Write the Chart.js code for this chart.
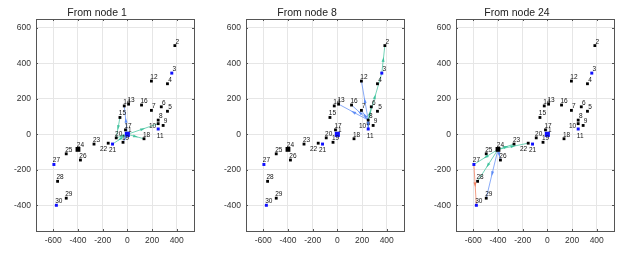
<!DOCTYPE html>
<html>
<head>
<meta charset="utf-8">
<script src="https://cdn.jsdelivr.net/npm/chart.js@4.4.1/dist/chart.umd.min.js"></script>
<style>
  body { margin:0; background:#fff; width:623px; height:260px; position:relative; overflow:hidden; }
  canvas { position:absolute; top:0; }
</style>
</head>
<body>
<canvas id="c1" width="200" height="260" style="left:0px"></canvas>
<canvas id="c2" width="200" height="260" style="left:210px"></canvas>
<canvas id="c3" width="200" height="260" style="left:420px"></canvas>
<script>
// node coordinates
const nodeIds = [1,2,3,4,5,6,7,8,9,10,11,12,13,14,15,16,17,18,19,20,21,22,23,24,25,26,27,28,29,30];
const nodeX = [0,385,360,325,325,275,195,250,290,250,250,195,10,-25,-60,115,-15,135,-35,-90,-120,-155,-270,-400,-495,-380,-595,-565,-495,-575];
const nodeY = [0,500,345,285,130,155,135,80,50,60,30,300,170,160,95,165,25,-25,-45,-20,-55,-50,-55,-85,-110,-145,-170,-265,-360,-400];
const blueNodes = [1,3,11,21,27,30];
const bigNodes = [1,24];

const xTicks = [-600,-400,-200,0,200,400];
const yTicks = [-400,-200,0,200,400,600];

const titles = ['From node 1','From node 8','From node 24'];

// edges for each panel: from, to, colour class
const from1 = [1,1,1,1,1,1,15];
const to1   = [14,19,10,18,21,20,20];
const kind1 = ['b','b','g','g','g','g','g'];

const from2 = [8,3,8,8,8,8,8,8];
const to2   = [3,2,6,12,13,16,7,11];
const kind2 = ['g','g','g','b','b','b','b','b'];

const from3 = [24,24,24,24,24,24,27];
const to3   = [23,22,27,28,29,26,30];
const kind3 = ['g','g','g','g','b','b','o'];

const EDGE_COL = { b:'rgba(80,130,245,0.85)', g:'rgba(50,190,150,0.85)', o:'rgba(240,120,85,0.9)' };
const FONT = 'Liberation Sans, Arial, sans-serif';

const pt = id => ({ x: nodeX[id-1], y: nodeY[id-1] });

// label placement tweaks (style only)
const labelPos = {
  10: { align:'right',  dx:-2, dy:4 },
  11: { align:'center', dx:2,  dy:9 },
  21: { align:'center', dx:0,  dy:8 },
  22: { align:'right',  dx:-1, dy:8 }
};

const boxPlugin = {
  id:'box',
  afterDraw(chart) {
    const { ctx, chartArea:a, scales } = chart;
    ctx.save();
    ctx.strokeStyle = '#555';
    ctx.lineWidth = 1;
    // little inward tick marks like the original
    ctx.beginPath();
    xTicks.forEach(v => {
      const px = Math.round(scales.x.getPixelForValue(v)) + 0.5;
      ctx.moveTo(px, a.top); ctx.lineTo(px, a.top + 2);
      ctx.moveTo(px, a.bottom); ctx.lineTo(px, a.bottom - 2);
    });
    yTicks.forEach(v => {
      const py = Math.round(scales.y.getPixelForValue(v)) + 0.5;
      ctx.moveTo(a.left, py); ctx.lineTo(a.left + 2, py);
      ctx.moveTo(a.right, py); ctx.lineTo(a.right - 2, py);
    });
    ctx.stroke();
    ctx.strokeRect(Math.round(a.left) + 0.5, Math.round(a.top) + 0.5,
                   Math.round(a.right - a.left), Math.round(a.bottom - a.top));
    ctx.restore();
  }
};

const arrowPlugin = {
  id:'arrows',
  afterDatasetsDraw(chart) {
    const { ctx, scales } = chart;
    ctx.save();
    chart.data.datasets.forEach(ds => {
      if (!ds.isEdge) return;
      const p0 = ds.data[0], p1 = ds.data[1];
      const x0 = scales.x.getPixelForValue(p0.x), y0 = scales.y.getPixelForValue(p0.y);
      const x1 = scales.x.getPixelForValue(p1.x), y1 = scales.y.getPixelForValue(p1.y);
      const len = Math.hypot(x1-x0, y1-y0) || 1;
      const ux = (x1-x0)/len, uy = (y1-y0)/len;
      const mx = (x0+x1)/2, my = (y0+y1)/2;
      ctx.fillStyle = ds.borderColor;
      ctx.beginPath();
      ctx.moveTo(mx + ux*2.5, my + uy*2.5);
      ctx.lineTo(mx - ux*2.5 - uy*1.5, my - uy*2.5 + ux*1.5);
      ctx.lineTo(mx - ux*2.5 + uy*1.5, my - uy*2.5 - ux*1.5);
      ctx.closePath();
      ctx.fill();
    });
    // node labels
    ctx.fillStyle = '#111';
    ctx.font = '6.5px ' + FONT;
    ctx.textBaseline = 'alphabetic';
    nodeIds.forEach(id => {
      const px = scales.x.getPixelForValue(nodeX[id-1]);
      const py = scales.y.getPixelForValue(nodeY[id-1]);
      const lp = labelPos[id] || { align:'center', dx:2.5, dy:-2 };
      ctx.textAlign = lp.align;
      ctx.fillText(String(id), px + lp.dx, py + lp.dy);
    });
    ctx.restore();
  }
};

function makeChart(canvasId, title, from, to, kind) {
  const edgeSets = from.map((f, i) => ({
    type:'line',
    isEdge:true,
    data:[pt(f), pt(to[i])],
    borderColor:EDGE_COL[kind[i]],
    borderWidth:0.8,
    pointRadius:0,
    fill:false,
    order:2
  }));
  const blackIds = nodeIds.filter(id => !blueNodes.includes(id));
  const nodeSets = [
    {
      type:'scatter',
      data:blackIds.map(pt),
      pointStyle:'rect',
      pointRadius:blackIds.map(id => bigNodes.includes(id) ? 3.4 : 2),
      backgroundColor:'#000', borderWidth:0, order:0
    },
    {
      type:'scatter',
      data:blueNodes.map(pt),
      pointStyle:'rect',
      pointRadius:blueNodes.map(id => bigNodes.includes(id) ? 3.6 : 2.1),
      backgroundColor:'#1010ff', borderWidth:0, order:0
    }
  ];
  return new Chart(document.getElementById(canvasId), {
    type:'scatter',
    data:{ datasets:[...nodeSets, ...edgeSets] },
    options:{
      responsive:false,
      animation:false,
      events:[],
      layout:{ padding:{ left:0, right:6, top:0, bottom:0 } },
      plugins:{
        legend:{ display:false },
        tooltip:{ enabled:false },
        title:{
          display:true, text:title, color:'#222',
          font:{ family:FONT, size:10.5, weight:'normal' },
          padding:{ top:6.4, bottom:0 }
        }
      },
      scales:{
        x:{
          type:'linear', min:-740, max:540,
          afterBuildTicks: s => { s.ticks = xTicks.map(v => ({ value:v })); },
          afterFit: s => { s.height = 29; },
          grid:{ color:'#e6e6e6', drawTicks:false },
          border:{ display:false },
          ticks:{ color:'#333', padding:5, maxRotation:0, font:{ family:FONT, size:8.5 } }
        },
        y:{
          type:'linear', min:-545, max:650,
          afterBuildTicks: s => { s.ticks = yTicks.map(v => ({ value:v })); },
          afterFit: s => { s.width = 36; },
          grid:{ color:'#e6e6e6', drawTicks:false },
          border:{ display:false },
          ticks:{ color:'#333', padding:5, font:{ family:FONT, size:8.5 } }
        }
      }
    },
    plugins:[boxPlugin, arrowPlugin]
  });
}

makeChart('c1', titles[0], from1, to1, kind1);
makeChart('c2', titles[1], from2, to2, kind2);
makeChart('c3', titles[2], from3, to3, kind3);
</script>
</body>
</html>
